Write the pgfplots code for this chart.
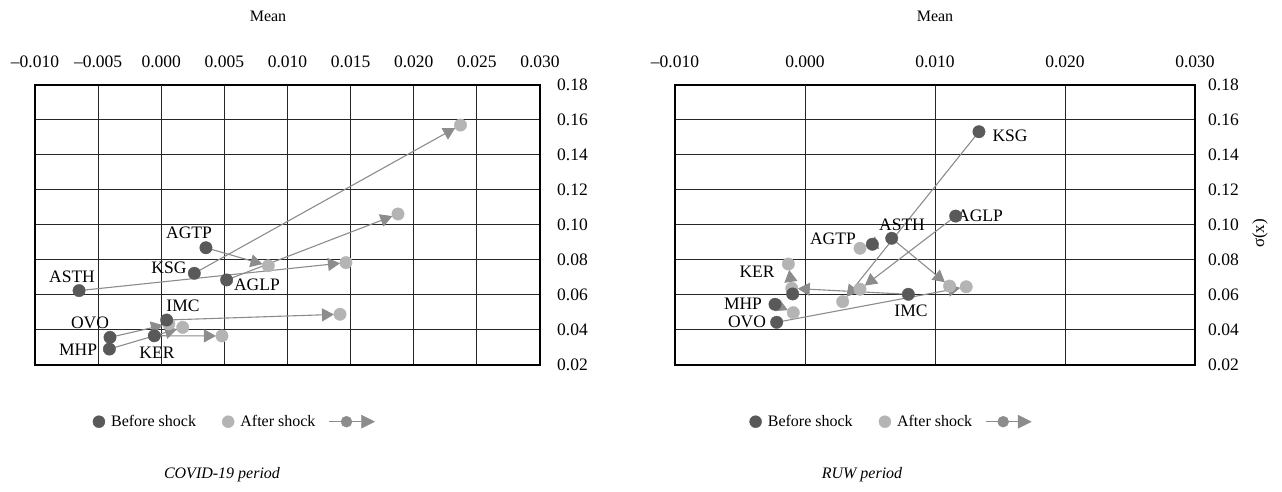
\documentclass[border=0pt]{standalone}
\usepackage{fontspec}
\setmainfont{Liberation Serif}
\usepackage{pgfplots}
\pgfplotsset{compat=1.18}
\usepackage{pgfplotstable}
\usetikzlibrary{arrows.meta}
\definecolor{beforec}{HTML}{595959}
\definecolor{afterc}{HTML}{B4B4B4}
\definecolor{arrowc}{HTML}{8C8C8C}

% name, before (mean, sigma), after (mean, sigma)
\pgfplotstableread{
name xb yb xa ya
KSG 0.00262 0.0724 0.0237 0.1571
AGLP 0.00518 0.0686 0.01875 0.1063
ASTH -0.00651 0.0625 0.01463 0.0785
AGTP 0.00354 0.0870 0.00848 0.0767
IMC 0.00043 0.0457 0.01416 0.0490
OVO -0.00406 0.0358 0.0006 0.0435
MHP -0.00411 0.0291 0.0017 0.0415
KER -0.00055 0.0367 0.00481 0.0366
}\covid

\pgfplotstableread{
name xb yb xa ya
KSG 0.01338 0.1533 0.0029 0.0562
AGLP 0.01159 0.1051 0.00423 0.0633
ASTH 0.00667 0.0924 0.01112 0.0651
AGTP 0.00518 0.0890 0.00423 0.0867
KER -0.00095 0.0606 -0.00128 0.0777
IMC 0.00795 0.0604 -0.00102 0.0638
MHP -0.00231 0.0547 -0.0009 0.0499
OVO -0.00218 0.0444 0.0124 0.0647
}\ruw

\tikzset{lab/.style={font=\fontsize{17.5}{20}\selectfont, inner sep=0pt}}

\pgfplotsset{
  panel/.style={
    scale only axis, height=280pt,
    ymin=0.02, ymax=0.18,
    ytick={0.02,0.04,0.06,0.08,0.10,0.12,0.14,0.16,0.18},
    yticklabels={0.02,0.04,0.06,0.08,0.10,0.12,0.14,0.16,0.18},
    scaled x ticks=false, scaled y ticks=false,
    xticklabel pos=top, yticklabel pos=right,
    major tick length=0pt,
    grid=major, major grid style={line width=1pt, black!85},
    axis line style={line width=2.4pt, black},
    tick label style={font=\fontsize{17.5}{20}\selectfont},
    xticklabel style={inner sep=0pt, anchor=base, yshift=17pt},
    extra x ticks={0}, extra x tick labels={},
    extra x tick style={grid style={line width=2.4pt, black}},
    clip=false,
    legend style={draw=none, fill=none, anchor=west, legend columns=3,
      /tikz/every odd column/.append style={column sep=6pt},
      /tikz/every even column/.append style={column sep=26pt},
      nodes={inner sep=0pt, font=\fontsize{16}{19}\selectfont}},
  },
  arrowsty/.style={arrowc, line width=1.1pt,
    -{Triangle[length=12pt,width=13pt]}, shorten >=6pt,
    quiver={u=\thisrow{xa}-\thisrow{xb}, v=\thisrow{ya}-\thisrow{yb}}},
  aftersty/.style={only marks, mark=*, mark size=6.2pt, color=afterc},
  beforesty/.style={only marks, mark=*, mark size=6.2pt, color=beforec},
  shiftimg/.style={legend image code/.code={%
    \draw[overlay, arrowc, line width=1.2pt] (-12pt,0pt) -- (20pt,0pt);
    \fill[overlay, arrowc] (20pt,6.5pt) -- (33pt,0pt) -- (20pt,-6.5pt) -- cycle;
    \fill[overlay, arrowc] (5pt,0pt) circle (5.5pt);
    \path[draw=none, fill=none] (0pt,-6pt) rectangle (20pt,6pt);}},
}

\begin{document}
\begin{tikzpicture}[font=\fontsize{16}{19}\selectfont]
\path[use as bounding box] (0pt,0pt) rectangle (1282pt,492pt);

% ---------- COVID-19 panel ----------
\begin{axis}[panel, at={(35pt,127pt)}, anchor=south west, width=505pt,
  xmin=-0.01, xmax=0.03,
  xtick={-0.01,-0.005,0,0.005,0.01,0.015,0.02,0.025,0.03},
  xticklabels={–0.010,–0.005,0.000,0.005,0.010,0.015,0.020,0.025,0.030},
  yticklabel style={inner sep=0pt, anchor=west, xshift=17pt},
  legend style={at={(axis description cs:0.108,-0.2025)}},
]
\addplot[arrowsty, forget plot] table[x=xb, y=yb] {\covid};
\addplot[aftersty, forget plot] table[x=xa, y=ya] {\covid};
\addplot[beforesty, forget plot] table[x=xb, y=yb] {\covid};
\addlegendimage{legend image code/.code={\fill[beforec] (6pt,0pt) circle (6pt);}}
\addlegendentry{Before shock}
\addlegendimage{legend image code/.code={\fill[afterc] (6pt,0pt) circle (6pt);}}
\addlegendentry{After shock}
\addlegendimage{shiftimg}
\addlegendentry{}
\node[lab] at (axis cs:0.0022,0.0954) {AGTP};
\node[lab] at (axis cs:0.000614,0.0754) {KSG};
\node[lab] at (axis cs:-0.00707,0.0703) {ASTH};
\node[lab] at (axis cs:0.00758,0.0657) {AGLP};
\node[lab] at (axis cs:0.00172,0.0537) {IMC};
\node[lab] at (axis cs:-0.00564,0.0440) {OVO};
\node[lab] at (axis cs:-0.00659,0.0286) {MHP};
\node[lab] at (axis cs:-0.000337,0.0269) {KER};
\end{axis}

% ---------- RUW panel ----------
\begin{axis}[panel, at={(675pt,127pt)}, anchor=south west, width=520pt,
  xmin=-0.01, xmax=0.03,
  xtick={-0.01,0,0.01,0.02,0.03},
  xticklabels={–0.010,0.000,0.010,0.020,0.030},
  yticklabel style={inner sep=0pt, anchor=west, xshift=13pt},
  ylabel={σ(x)},
  ylabel style={at={(axis description cs:1.125,0.47)}, anchor=center,
    font=\fontsize{17}{20}\selectfont},
  legend style={at={(axis description cs:0.137,-0.2025)}},
]
\addplot[arrowsty, forget plot] table[x=xb, y=yb] {\ruw};
\addplot[aftersty, forget plot] table[x=xa, y=ya] {\ruw};
\addplot[beforesty, forget plot] table[x=xb, y=yb] {\ruw};
\addlegendimage{legend image code/.code={\fill[beforec] (6pt,0pt) circle (6pt);}}
\addlegendentry{Before shock}
\addlegendimage{legend image code/.code={\fill[afterc] (6pt,0pt) circle (6pt);}}
\addlegendentry{After shock}
\addlegendimage{shiftimg}
\addlegendentry{}
\node[lab] at (axis cs:0.01577,0.1509) {KSG};
\node[lab] at (axis cs:0.01346,0.1051) {AGLP};
\node[lab] at (axis cs:0.00746,0.1000) {ASTH};
\node[lab] at (axis cs:0.00215,0.0920) {AGTP};
\node[lab] at (axis cs:-0.00369,0.0731) {KER};
\node[lab] at (axis cs:-0.00477,0.0549) {MHP};
\node[lab] at (axis cs:-0.00446,0.0446) {OVO};
\node[lab] at (axis cs:0.00815,0.0509) {IMC};
\end{axis}

% ---------- axis titles and panel captions ----------
\node at (268pt,476pt) {Mean};
\node at (935pt,476pt) {Mean};
\node[font=\fontsize{16}{19}\selectfont\itshape] at (222pt,17pt) {COVID-19 period};
\node[font=\fontsize{16}{19}\selectfont\itshape] at (862pt,17pt) {RUW period};
\end{tikzpicture}
\end{document}
